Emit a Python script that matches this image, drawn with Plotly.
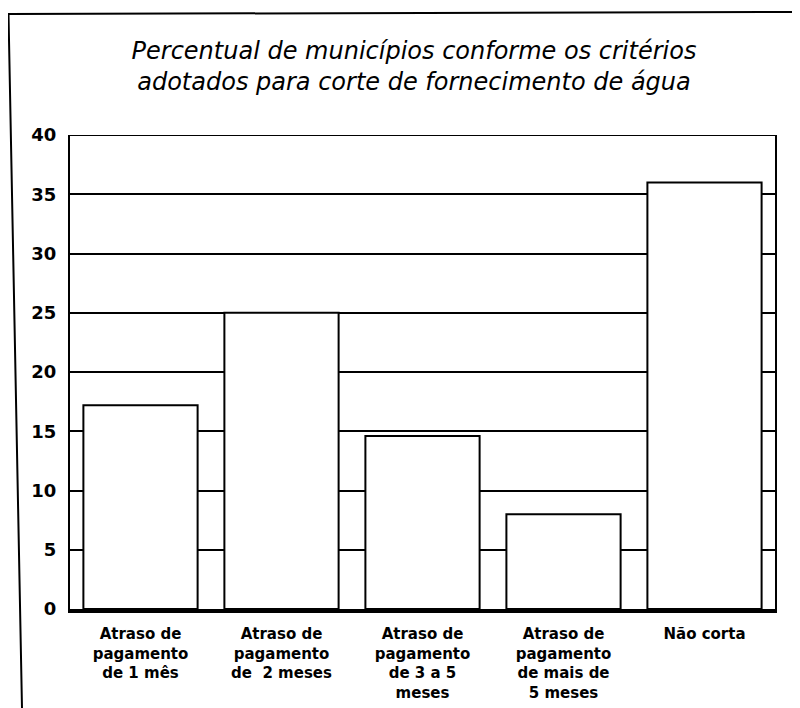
import plotly.graph_objects as go

categories = [
    "Atraso de<br>pagamento<br>de 1 mês",
    "Atraso de<br>pagamento<br>de  2 meses",
    "Atraso de<br>pagamento<br>de 3 a 5<br>meses",
    "Atraso de<br>pagamento<br>de mais de<br>5 meses",
    "Não corta",
]
values = [17.2, 25, 14.6, 8.0, 36]
y_ticks = [0, 5, 10, 15, 20, 25, 30, 35, 40]

W, H = 792, 700
L, R, T, B = 62, 25, 127, 99
pw, ph = W - L - R, H - T - B


def px(x):
    return (x - L) / pw


def py(y):
    return (T + ph - y) / ph


fig = go.Figure(go.Bar(
    x=categories, y=values,
    marker=dict(color="white", line=dict(color="black", width=2)),
    width=0.81,
))

frame_path = "M {} {} L {} {} L {} {} L {} {}".format(
    px(14), py(700), px(0.5), py(6), px(790), py(4), px(790), py(700)
)

fig.update_layout(
    width=W, height=H,
    margin=dict(l=L, r=R, t=T, b=B),
    paper_bgcolor="white", plot_bgcolor="white",
    showlegend=False,
    title=dict(
        text="<i>Percentual de municípios conforme os critérios<br>adotados para corte de fornecimento de água</i>",
        xref="container", x=406 / W, xanchor="center",
        yref="container", y=1 - 51 / H, yanchor="middle",
        font=dict(family="DejaVu Sans", size=24, color="black"),
    ),
    font=dict(family="DejaVu Sans", color="black"),
    xaxis=dict(
        showline=True, linecolor="black", linewidth=4,
        showgrid=False, ticks="", ticklabelstandoff=8, automargin=False,
        tickfont=dict(family="DejaVu Sans", size=15, weight="bold", color="black"),
        range=[-0.5, 4.5],
    ),
    yaxis=dict(
        range=[0, 40], tickvals=y_ticks, automargin=False,
        showline=True, linecolor="black", linewidth=2, mirror=True,
        showgrid=True, gridcolor="black", gridwidth=2,
        zeroline=False, ticks="", ticklabelstandoff=8,
        tickfont=dict(family="DejaVu Sans", size=18, weight="bold", color="black"),
    ),
    shapes=[
        dict(type="path", xref="paper", yref="paper", path=frame_path,
             line=dict(color="black", width=2), layer="below"),
        dict(type="line", xref="paper", yref="y", x0=0, x1=1, y0=40, y1=40,
             line=dict(color="black", width=2)),
    ],
)

fig.write_html("out.html")
